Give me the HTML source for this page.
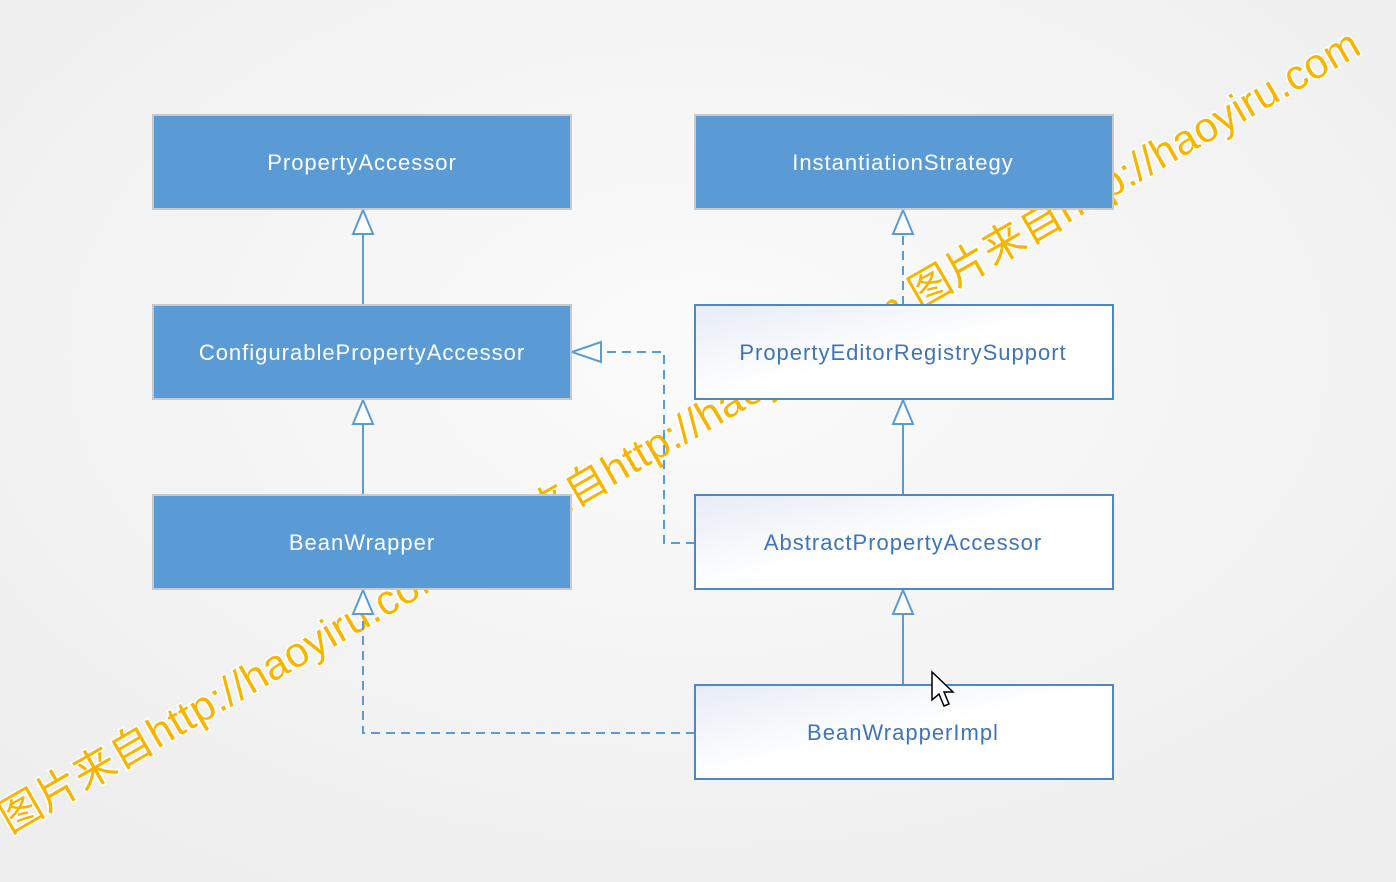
<!DOCTYPE html>
<html><head><meta charset="utf-8"><style>
html,body{margin:0;padding:0;width:1396px;height:882px;overflow:hidden;background:#f3f3f3;}
svg{display:block}
</style></head><body>
<svg width="1396" height="882" viewBox="0 0 1396 882" xmlns="http://www.w3.org/2000/svg">
<defs>
<radialGradient id="bg" cx="50%" cy="40%" r="70%">
<stop offset="0" stop-color="#fbfbfb"/><stop offset="1" stop-color="#eeeeee"/>
</radialGradient>
<linearGradient id="wf" x1="0" y1="0" x2="1" y2="1">
<stop offset="0" stop-color="#e6ecf6"/><stop offset="0.5" stop-color="#ffffff"/><stop offset="1" stop-color="#ffffff"/>
</linearGradient>
</defs>
<rect width="1396" height="882" fill="url(#bg)"/>

<!-- watermark -->
<text transform="translate(10,834) rotate(-30)" font-family="Liberation Sans, Noto Sans CJK SC, sans-serif" font-size="42" letter-spacing="0.5" fill="#f7b500" stroke="#ffffff" stroke-width="3" paint-order="stroke" xml:space="preserve">图片来自http://haoyiru.com 图片来自http://haoyiru.com 图片来自http://haoyiru.com</text>

<!-- connectors -->
<g stroke="#5b9bd5" stroke-width="2" fill="none">
<line x1="363" y1="234" x2="363" y2="305"/>
<line x1="363" y1="424" x2="363" y2="495"/>
<line x1="903" y1="424" x2="903" y2="495"/>
<line x1="903" y1="614" x2="903" y2="685"/>
<g stroke-dasharray="9,6">
<line x1="903" y1="305" x2="903" y2="234"/>
<polyline points="695,543 664,543 664,352 601,352"/>
<polyline points="695,733 363,733 363,614"/>
</g>
<g fill="#ffffff">
<polygon points="363,210 353,234 373,234"/>
<polygon points="363,400 353,424 373,424"/>
<polygon points="363,590 353,614 373,614"/>
<polygon points="903,210 893,234 913,234"/>
<polygon points="903,400 893,424 913,424"/>
<polygon points="903,590 893,614 913,614"/>
<polygon points="572,352 601,342 601,362"/>
</g>
</g>

<!-- filled boxes -->
<g stroke="#c9c9c9" stroke-width="2" fill="#5b9bd5">
<rect x="153" y="115" width="418" height="94"/>
<rect x="695" y="115" width="418" height="94"/>
<rect x="153" y="305" width="418" height="94"/>
<rect x="153" y="495" width="418" height="94"/>
</g>
<g stroke="#4f86c6" stroke-width="2" fill="url(#wf)">
<rect x="695" y="305" width="418" height="94"/>
<rect x="695" y="495" width="418" height="94"/>
<rect x="695" y="685" width="418" height="94"/>
</g>
<g font-family="Liberation Sans, sans-serif" font-size="22" letter-spacing="1" text-anchor="middle">
<g fill="#ffffff">
<text x="362" y="170">PropertyAccessor</text>
<text x="903" y="170">InstantiationStrategy</text>
<text x="362" y="360">ConfigurablePropertyAccessor</text>
<text x="362" y="550">BeanWrapper</text>
</g>
<g fill="#3f74b8">
<text x="903" y="360">PropertyEditorRegistrySupport</text>
<text x="903" y="550">AbstractPropertyAccessor</text>
<text x="903" y="740">BeanWrapperImpl</text>
</g>
</g>

<!-- cursor -->
<path d="M932,672 L932,700 L939,694 L944,706 L949,704 L944,692 L953,692 Z" fill="#ffffff" stroke="#000" stroke-width="1.5"/>
</svg>
</body></html>
